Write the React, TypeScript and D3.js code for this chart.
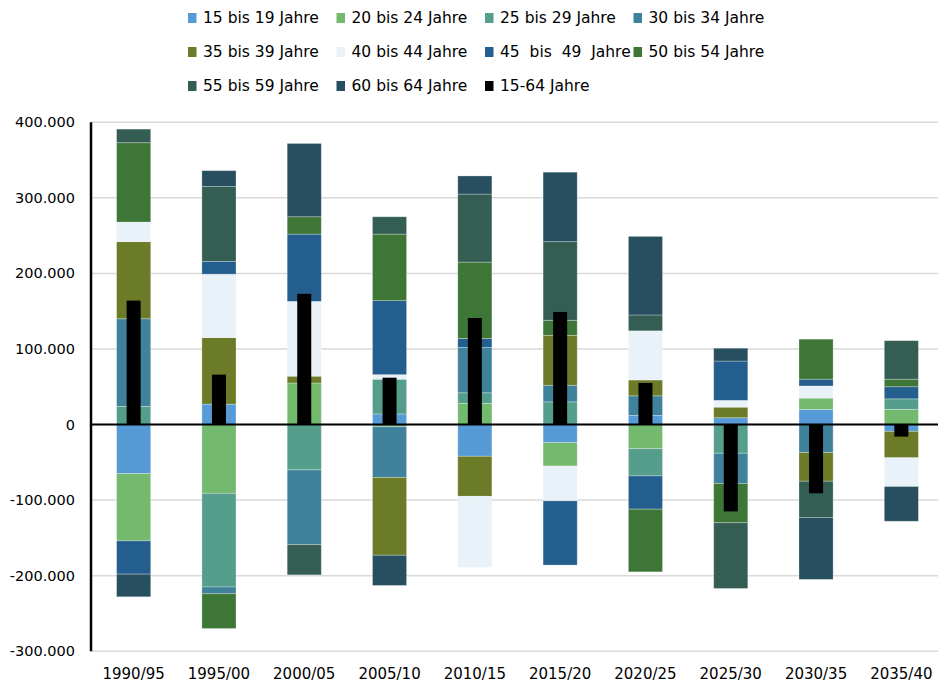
import React from 'react';
import * as d3 from 'd3';

// Veränderung der Bevölkerung nach Altersgruppen (in Tausend)
const periods = ['1990/95', '1995/00', '2000/05', '2005/10', '2010/15', '2015/20', '2020/25', '2025/30', '2030/35', '2035/40'];

const groups = [
  '15 bis 19 Jahre', '20 bis 24 Jahre', '25 bis 29 Jahre', '30 bis 34 Jahre', '35 bis 39 Jahre',
  '40 bis 44 Jahre', '45  bis  49  Jahre', '50 bis 54 Jahre', '55 bis 59 Jahre', '60 bis 64 Jahre',
];

const colors = ['#569bd6', '#73b96e', '#569e8c', '#40829c', '#6b7b27', '#e9f1f9', '#245e8e', '#3e7637', '#345e54', '#274f60'];

const age15to19 = [-65, 27, 0, 14, -42, -24, 12, 9, 20, -9];
const age20to24 = [-89, -91, 55, -3, 28, -31, -32, 0, 15, 20];
const age25to29 = [24, -124, -60, 46, 14, 30, -36, -38, 0, 14];
const age30to34 = [116, -9, -99, -67, 60, 22, 26, -40, -37, 0];
const age35to39 = [102, 88, 9, -103, -53, 66, 21, 14, -38, -35];
const age40to44 = [26, 84, 99, 6, -94, -46, 65, 9, 16, -38];
const age45to49 = [-44, 17, 89, 98, 12, -85, -44, 52, 9, 16];
const age50to54 = [105, -46, 23, 88, 101, 20, -83, -52, 53, 10];
const age55to59 = [18, 99, -40, 23, 90, 104, 21, -87, -48, 51];
const age60to64 = [-30, 21, 97, -40, 24, 92, 104, 17, -82, -46];
const total15to64 = [164, 66, 173, 62, 141, 149, 55, -115, -91, -16];

const series = [age15to19, age20to24, age25to29, age30to34, age35to39, age40to44, age45to49, age50to54, age55to59, age60to64];
const yTicks = [-300, -200, -100, 0, 100, 200, 300, 400];

const W = 938;
const H = 682;
const font = '"DejaVu Sans", sans-serif';

export default function App() {
  const x = d3.scaleBand<string>().domain(periods).range([91, 944]).paddingInner(0.6).paddingOuter(0.3);
  const y = d3.scaleLinear().domain([-300, 400]).range([651.2, 122.3]);

  const rows = periods.map((p, i) => {
    const r: any = { period: p };
    groups.forEach((g, j) => { r[g] = series[j][i]; });
    return r;
  });
  const stacked = d3.stack<any>().keys(groups).offset(d3.stackOffsetDiverging)(rows);

  const fmt = (v: number) => (v === 0 ? '0' : (v < 0 ? '-' : '') + Math.abs(v) + '.000');

  const legendItems = [...groups.map((g, i) => ({ label: g, color: colors[i] })), { label: '15-64 Jahre', color: '#000' }];

  return (
    <svg width={W} height={H} style={{ position: 'absolute', left: 0, top: 0, background: '#fff' }} fontFamily={font}>
      {/* grid */}
      {yTicks.map((t) => (
        <line key={t} x1={91} x2={W} y1={y(t)} y2={y(t)} stroke="#d9d9d9" strokeWidth={1.5} />
      ))}
      {yTicks.map((t) => (
        <text key={'l' + t} x={75} y={y(t)} dy="0.35em" textAnchor="end" fontSize={14.5} fill="#000">{fmt(t)}</text>
      ))}

      {/* stacked bars */}
      {stacked.map((s, j) => (
        <g key={s.key} fill={colors[j]}>
          {s.map((d, i) => {
            const h = Math.abs(y(d[0]) - y(d[1]));
            if (h < 0.01) return null;
            return (
              <rect key={i} x={x(periods[i])} y={Math.min(y(d[0]), y(d[1]))} width={x.bandwidth()} height={h}
                stroke="#ffffff" strokeOpacity={0.35} strokeWidth={0.8} />
            );
          })}
        </g>
      ))}

      {/* total 15-64 */}
      {total15to64.map((v, i) => (
        <rect key={'t' + i} x={(x(periods[i]) as number) + x.bandwidth() / 2 - 7} y={Math.min(y(0), y(v))}
          width={14} height={Math.abs(y(v) - y(0))} fill="#000" />
      ))}

      {/* axes */}
      <line x1={91} x2={W} y1={y(0)} y2={y(0)} stroke="#000" strokeWidth={2} />
      <line x1={91} x2={91} y1={y(400)} y2={y(-300)} stroke="#000" strokeWidth={2.5} />

      {periods.map((p) => (
        <text key={p} x={(x(p) as number) + x.bandwidth() / 2} y={679} textAnchor="middle" fontSize={15} fill="#000">{p}</text>
      ))}

      {/* legend */}
      {legendItems.map((it, i) => {
        const col = i % 4;
        const row = Math.floor(i / 4);
        const lx = 188 + col * 148.5;
        const ly = 18 + row * 34;
        return (
          <g key={it.label} transform={`translate(${lx},${ly})`}>
            <rect x={0} y={-5} width={8.5} height={10} fill={it.color} />
            <text x={15} y={0} dy="0.35em" fontSize={15.5} fill="#000" xmlSpace="preserve">{it.label}</text>
          </g>
        );
      })}
    </svg>
  );
}
